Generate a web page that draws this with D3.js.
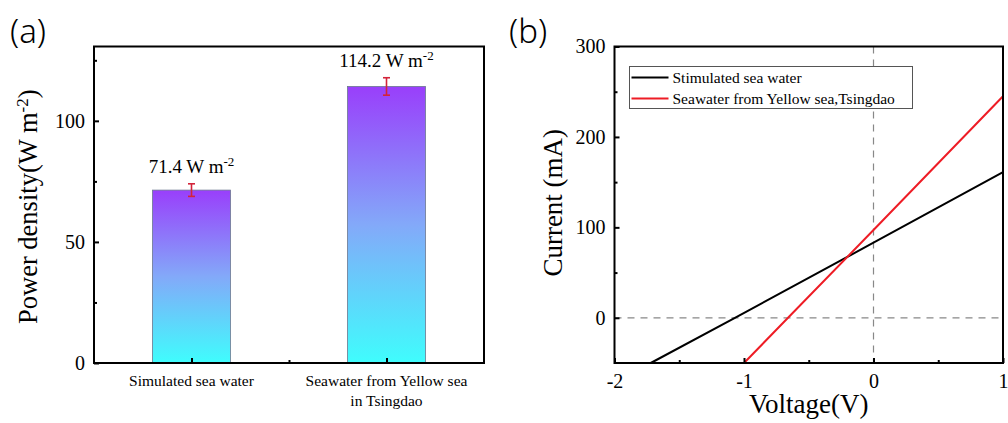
<!DOCTYPE html>
<html>
<head>
<meta charset="utf-8">
<script src="https://cdn.jsdelivr.net/npm/d3@7"></script>
<style>
  body { margin: 0; background: #fff; }
  svg { display: block; }
</style>
</head>
<body>
<div id="chart"></div>
<script>
// panel (a) data
const samples = ["Simulated sea water", "Seawater from Yellow sea\nin Tsingdao"];
const powerDensity = [71.4, 114.2];
const powerError = [2.6, 3.6];
const powerLabels = ["71.4", "114.2"];

// panel (b) data
const voltageSim = [-1.72, -1.07, 0, 1];
const currentSim = [-50, 0, 83, 161];
const voltageSea = [-1.0, -0.66, 0, 1];
const currentSea = [-50, 0, 97, 245];
const seriesNames = ["Stimulated sea water", "Seawater from Yellow sea,Tsingdao"];
const seriesColors = ["#000000", "#ee1c25"];

const width = 1008;
const height = 423;
const serif = "'Liberation Serif', 'Times New Roman', serif";

const svg = d3.select("#chart")
  .append("svg")
    .attr("width", width)
    .attr("height", height);

const defs = svg.append("defs");
const grad = defs.append("linearGradient")
    .attr("id", "barGrad")
    .attr("x1", 0).attr("y1", 0)
    .attr("x2", 0).attr("y2", 1);
grad.append("stop").attr("offset", "0%").attr("stop-color", "#993ffb");
grad.append("stop").attr("offset", "50%").attr("stop-color", "#83a9f9");
grad.append("stop").attr("offset", "100%").attr("stop-color", "#3ffdfd");

// plain hyphen for negatives, like the original
const fmt = (d) => String(d);

// ---------- panel (a) ----------
const a = { left: 94, top: 46.5, right: 484, bottom: 363 };

const xA = d3.scaleLinear().domain([0.5, 2.5]).range([a.left, a.right]);
const yA = d3.scaleLinear().domain([0, 130.7]).range([a.bottom, a.top]);

const gA = svg.append("g");

const barW = xA(1.4) - xA(1);

gA.selectAll(".bar")
  .data(powerDensity)
  .join("rect")
    .attr("class", "bar")
    .attr("x", (d, i) => xA(i + 1) - barW / 2)
    .attr("y", (d) => yA(d))
    .attr("width", barW)
    .attr("height", (d) => yA(0) - yA(d))
    .attr("fill", "url(#barGrad)")
    .attr("stroke", "#6c7890")
    .attr("stroke-width", 0.8);

// error bars
const err = gA.selectAll(".err")
  .data(powerDensity)
  .join("g")
    .attr("class", "err")
    .attr("stroke", "#d3243a")
    .attr("stroke-width", 1.6);
err.append("line")
    .attr("x1", (d, i) => xA(i + 1)).attr("x2", (d, i) => xA(i + 1))
    .attr("y1", (d, i) => yA(d + powerError[i]))
    .attr("y2", (d, i) => yA(d - powerError[i]));
err.append("line")
    .attr("x1", (d, i) => xA(i + 1) - 3.5).attr("x2", (d, i) => xA(i + 1) + 3.5)
    .attr("y1", (d, i) => yA(d + powerError[i]))
    .attr("y2", (d, i) => yA(d + powerError[i]));
err.append("line")
    .attr("x1", (d, i) => xA(i + 1) - 3.5).attr("x2", (d, i) => xA(i + 1) + 3.5)
    .attr("y1", (d, i) => yA(d - powerError[i]))
    .attr("y2", (d, i) => yA(d - powerError[i]));

// value labels
const lab = gA.selectAll(".val")
  .data(powerDensity)
  .join("text")
    .attr("class", "val")
    .attr("x", (d, i) => xA(i + 1))
    .attr("y", (d, i) => yA(d + powerError[i]) - 11)
    .attr("text-anchor", "middle")
    .attr("font-size", 19);
lab.append("tspan").text((d, i) => powerLabels[i] + " W m");
lab.append("tspan").attr("dy", -7).attr("font-size", 13).text("-2");

// frame
gA.append("rect")
    .attr("x", a.left).attr("y", a.top)
    .attr("width", a.right - a.left).attr("height", a.bottom - a.top)
    .attr("fill", "none").attr("stroke", "#000").attr("stroke-width", 2);

// y axis (ticks inward)
const yAxisA = gA.append("g")
    .attr("transform", `translate(${a.left}, 0)`)
    .call(d3.axisLeft(yA).tickValues([0, 50, 100]).tickSize(-5).tickPadding(9).tickFormat(fmt));
yAxisA.append("g")
    .call(d3.axisLeft(yA).tickValues([25, 75, 125]).tickSize(-3).tickFormat(""));
yAxisA.selectAll("text").attr("font-size", 20);
yAxisA.selectAll(".domain").remove();
yAxisA.selectAll("line").attr("stroke-width", 2);

// x axis (ticks inward)
const xAxisA = gA.append("g")
    .attr("transform", `translate(0, ${a.bottom})`)
    .call(d3.axisBottom(xA).tickValues([1, 2]).tickSize(-5).tickFormat(""));
xAxisA.append("g")
    .call(d3.axisBottom(xA).tickValues([1.5]).tickSize(-3).tickFormat(""));
xAxisA.selectAll(".domain").remove();
xAxisA.selectAll("line").attr("stroke-width", 2);

// category labels
gA.selectAll(".cat")
  .data(samples)
  .join("text")
    .attr("class", "cat")
    .attr("x", (d, i) => xA(i + 1))
    .attr("y", 386)
    .attr("text-anchor", "middle")
    .attr("font-size", 15.5)
    .selectAll("tspan")
    .data((d) => d.split("\n"))
    .join("tspan")
      .attr("x", function () { return this.parentNode.getAttribute("x"); })
      .attr("dy", (d, i) => i === 0 ? 0 : 20)
      .text((d) => d);

const yLabA = gA.append("text")
    .attr("transform", `translate(37, ${(a.top + a.bottom) / 2 + 2}) rotate(-90)`)
    .attr("text-anchor", "middle")
    .attr("font-size", 26.5);
yLabA.append("tspan").text("Power density(W m");
yLabA.append("tspan").attr("dy", -9).attr("font-size", 17).text("-2");
yLabA.append("tspan").attr("dy", 9).text(")");

// ---------- panel (b) ----------
const b = { left: 614.5, top: 46.5, right: 1003, bottom: 363 };

const xB = d3.scaleLinear().domain([-2, 1]).range([b.left, b.right]);
const yB = d3.scaleLinear().domain([-50, 300]).range([b.bottom, b.top]);

const gB = svg.append("g");

// reference dashed lines
gB.append("line")
    .attr("x1", xB(-2)).attr("x2", xB(1))
    .attr("y1", yB(0)).attr("y2", yB(0))
    .attr("stroke", "#888").attr("stroke-width", 1.2)
    .attr("stroke-dasharray", "7,6");
gB.append("line")
    .attr("x1", xB(0)).attr("x2", xB(0))
    .attr("y1", yB(300)).attr("y2", yB(-50))
    .attr("stroke", "#888").attr("stroke-width", 1.2)
    .attr("stroke-dasharray", "7,6");

const series = [
  voltageSim.map((v, i) => [v, currentSim[i]]),
  voltageSea.map((v, i) => [v, currentSea[i]]),
];

const line = d3.line()
    .x((d) => xB(d[0]))
    .y((d) => yB(d[1]));

gB.selectAll(".iv")
  .data(series)
  .join("path")
    .attr("class", "iv")
    .attr("d", line)
    .attr("fill", "none")
    .attr("stroke", (d, i) => seriesColors[i])
    .attr("stroke-width", 2);

// frame
gB.append("rect")
    .attr("x", b.left).attr("y", b.top)
    .attr("width", b.right - b.left).attr("height", b.bottom - b.top)
    .attr("fill", "none").attr("stroke", "#000").attr("stroke-width", 2);

const yAxisB = gB.append("g")
    .attr("transform", `translate(${b.left}, 0)`)
    .call(d3.axisLeft(yB).tickValues([0, 100, 200, 300]).tickSize(-5).tickPadding(9).tickFormat(fmt));
yAxisB.append("g")
    .call(d3.axisLeft(yB).tickValues([50, 150, 250]).tickSize(-3).tickFormat(""));
yAxisB.selectAll("text").attr("font-size", 20);
yAxisB.selectAll(".domain").remove();
yAxisB.selectAll("line").attr("stroke-width", 2);

const xAxisB = gB.append("g")
    .attr("transform", `translate(0, ${b.bottom})`)
    .call(d3.axisBottom(xB).tickValues([-2, -1, 0, 1]).tickSize(-5).tickPadding(11).tickFormat(fmt));
xAxisB.append("g")
    .call(d3.axisBottom(xB).tickValues([-1.5, -0.5, 0.5]).tickSize(-3).tickFormat(""));
xAxisB.selectAll("text").attr("font-size", 20);
xAxisB.selectAll(".domain").remove();
xAxisB.selectAll("line").attr("stroke-width", 2);

// legend
const leg = gB.append("g").attr("transform", "translate(629.5, 66.5)");
leg.append("rect")
    .attr("width", 283).attr("height", 42)
    .attr("fill", "#fff").attr("stroke", "#555").attr("stroke-width", 1);
const legRow = leg.selectAll(".row")
  .data(seriesNames)
  .join("g")
    .attr("class", "row")
    .attr("transform", (d, i) => `translate(0, ${11 + i * 21})`);
legRow.append("line")
    .attr("x1", 2).attr("x2", 39)
    .attr("stroke", (d, i) => seriesColors[i])
    .attr("stroke-width", 2);
legRow.append("text")
    .attr("x", 43).attr("y", 5)
    .attr("font-size", 15.5)
    .text((d) => d);

gB.append("text")
    .attr("transform", `translate(562, ${(b.top + b.bottom) / 2 - 2}) rotate(-90)`)
    .attr("text-anchor", "middle")
    .attr("font-size", 27)
    .text("Current (mA)");

gB.append("text")
    .attr("x", (b.left + b.right) / 2)
    .attr("y", 413)
    .attr("text-anchor", "middle")
    .attr("font-size", 27)
    .text("Voltage(V)");

// every chart text in a Times-like face
svg.selectAll("text").style("font-family", serif).attr("fill", "#000");

// panel tags in a light sans face
svg.selectAll(".panel-tag")
  .data(["(a)", "(b)"])
  .join("text")
    .attr("class", "panel-tag")
    .attr("x", (d, i) => i === 0 ? 10 : 509)
    .attr("y", 43)
    .attr("font-size", 33)
    .style("font-family", "'Noto Sans', sans-serif")
    .style("font-weight", 300)
    .text((d) => d);
</script>
</body>
</html>
